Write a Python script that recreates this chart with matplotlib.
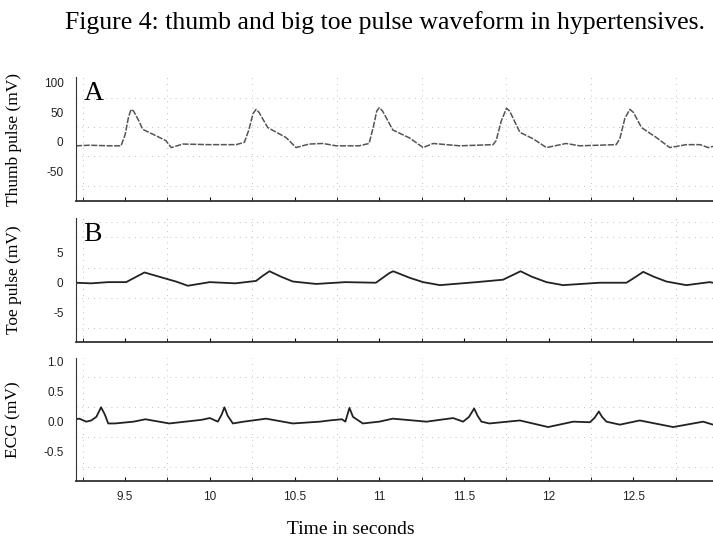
import numpy as np
import matplotlib.pyplot as plt
from matplotlib.ticker import MultipleLocator

plt.rcParams['axes.unicode_minus'] = False

# values (time in s, amplitude in mV)
thumb_t = [9.21, 9.29, 9.41, 9.476, 9.50, 9.52, 9.535, 9.55, 9.58, 9.604, 9.683, 9.74, 9.772,
           9.841, 9.996, 10.155, 10.204, 10.23, 10.255, 10.273, 10.29, 10.342, 10.45, 10.509,
           10.586, 10.667, 10.746, 10.881, 10.94, 10.965, 10.985, 11.0, 11.02, 11.08, 11.181,
           11.259, 11.318, 11.476, 11.672, 11.69, 11.72, 11.751, 11.77, 11.83, 11.908, 11.987,
           12.103, 12.184, 12.398, 12.42, 12.45, 12.479, 12.50, 12.548, 12.636, 12.715,
           12.813, 12.893, 12.942, 12.97]
thumb_mv = [-7, -6, -7, -7, 12, 42, 55, 52, 36, 21, 10, 2, -10,
            -4, -5, -5, -1, 20, 48, 55, 50, 24, 7, -10,
            -4, -3, -7, -7, -3, 25, 52, 58, 52, 20, 6,
            -10, -3, -7, -5, 2, 35, 57, 52, 16, 5, -10,
            -3, -7, -5, 5, 40, 55, 50, 24, 7, -10,
            -5, -5, -10, -8]

toe_t = [9.21, 9.30, 9.40, 9.506, 9.56, 9.614, 9.70, 9.80, 9.87, 10.0, 10.15, 10.273, 10.31,
         10.352, 10.42, 10.49, 10.627, 10.80, 10.98, 11.06, 11.082, 11.181, 11.259, 11.358,
         11.574, 11.731, 11.834, 11.90, 11.987, 12.085, 12.30, 12.459, 12.51, 12.558, 12.62,
         12.695, 12.813, 12.95, 12.97]
toe_mv = [0.0, -0.1, 0.1, 0.1, 0.9, 1.7, 1.0, 0.2, -0.5, 0.1, -0.1, 0.3, 1.1,
          1.9, 1.0, 0.2, -0.2, 0.1, 0.0, 1.6, 1.9, 0.8, 0.1, -0.4,
          0.1, 0.5, 1.9, 1.0, 0.1, -0.4, 0.0, 0.0, 0.9, 1.8, 1.0,
          0.2, -0.4, 0.1, 0.0]

ecg_t = [9.21, 9.23, 9.27, 9.30, 9.33, 9.358, 9.38, 9.40, 9.44, 9.55, 9.62, 9.76, 9.95,
         10.0, 10.047, 10.07, 10.086, 10.105, 10.136, 10.20, 10.332, 10.49, 10.65, 10.706,
         10.78, 10.80, 10.824, 10.845, 10.903, 11.0, 11.08, 11.279, 11.436, 11.495, 11.53,
         11.56, 11.58, 11.603, 11.65, 11.83, 11.997, 12.145, 12.243, 12.27, 12.296, 12.315,
         12.341, 12.42, 12.538, 12.735, 12.912, 12.97]
ecg_mv = [0.04, 0.05, 0.0, 0.02, 0.08, 0.24, 0.12, -0.03, -0.03, 0.0, 0.04, -0.03, 0.03,
          0.06, 0.0, 0.12, 0.24, 0.10, -0.03, 0.0, 0.05, -0.03, 0.0, 0.02,
          0.04, 0.0, 0.23, 0.08, -0.03, 0.0, 0.05, 0.0, 0.06, 0.0, 0.08,
          0.22, 0.10, 0.0, -0.03, 0.02, -0.09, 0.0, -0.01, 0.06, 0.17, 0.08,
          0.0, -0.05, 0.02, -0.09, 0.0, -0.05]

x_ticks = [9.5, 10, 10.5, 11, 11.5, 12, 12.5]
x_labels = ['9.5', '10', '10.5', '11', '11.5', '12', '12.5']

panels = [
    (thumb_t, thumb_mv, 'Thumb pulse (mV)', (-101, 110), [-50, 0, 50, 100], ['-50', '0', '50', '100'], 25, 'A'),
    (toe_t, toe_mv, 'Toe pulse (mV)', (-9.8, 10.7), [-5, 0, 5], ['-5', '0', '5'], 2.5, 'B'),
    (ecg_t, ecg_mv, 'ECG (mV)', (-0.99, 1.06), [-0.5, 0.0, 0.5, 1.0], ['-0.5', '0.0', '0.5', '1.0'], 0.25, None),
]
boxes = [(0.1066, 0.627, 0.8934, 0.230),
         (0.1066, 0.3655, 0.8934, 0.230),
         (0.1066, 0.1076, 0.8934, 0.228)]

fig = plt.figure(figsize=(7.13, 5.39), dpi=100)
fig.text(0.540, 0.958, 'Figure 4: thumb and big toe pulse waveform in hypertensives.',
         ha='center', va='center', family='Liberation Serif', fontsize=18.5)

for i, (t, v, ylab, ylim, yt, ytl, ygrid, tag) in enumerate(panels):
    ax = fig.add_axes(boxes[i])
    if i == 0:
        ax.plot(t, v, color='#555555', lw=1.1, ls=(0, (4, 1)))
    else:
        ax.plot(t, v, color='#222222', lw=1.3)
    ax.set_xlim(9.21, 12.97)
    ax.set_ylim(*ylim)
    ax.set_yticks(yt)
    ax.set_yticklabels(ytl)
    ax.set_xticks(x_ticks)
    ax.set_xticklabels(x_labels)
    ax.xaxis.set_minor_locator(MultipleLocator(0.25))
    ax.yaxis.set_minor_locator(MultipleLocator(ygrid))
    ax.grid(True, which='minor', color='#aaaaaa', lw=0.6, ls=(0, (1, 6)))
    for s in ['top', 'right']:
        ax.spines[s].set_visible(False)
    ax.spines['left'].set_color('#333333')
    ax.spines['bottom'].set_color('#333333')
    ax.spines['bottom'].set_linewidth(1.3)
    ax.tick_params(axis='y', which='both', length=0, pad=9, labelsize=8.5, labelcolor='#222222')
    ax.tick_params(axis='x', which='both', direction='in', length=3, pad=7, labelsize=8.5,
                   labelcolor='#222222')
    for lbl in ax.get_yticklabels() + ax.get_xticklabels():
        lbl.set_family('Liberation Sans')
    if i < 2:
        ax.tick_params(axis='x', labelbottom=False)
    ax.set_ylabel(ylab, family='Liberation Serif', fontsize=12.5)
    ax.yaxis.set_label_coords(-0.085, 0.5)
    if tag:
        ax.text(0.012, 0.97, tag, transform=ax.transAxes, ha='left', va='top',
                family='Liberation Serif', fontsize=20)

fig.text(0.492, 0.017, 'Time in seconds', ha='center', va='center',
         family='Liberation Serif', fontsize=14)

fig.savefig('out.png', dpi=100)
